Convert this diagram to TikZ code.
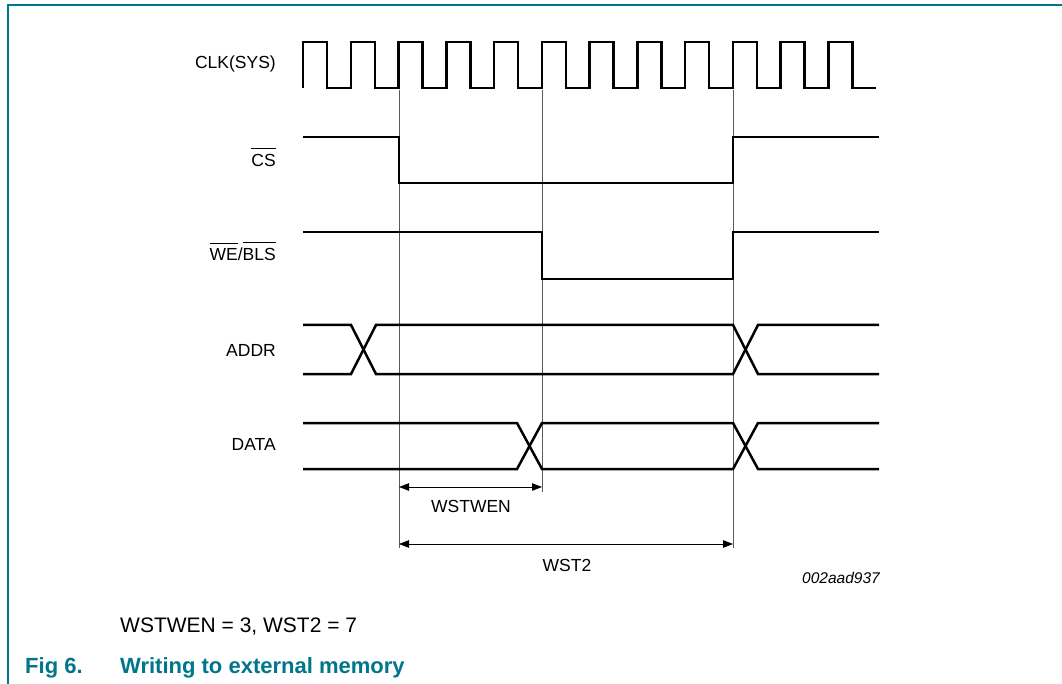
\documentclass[tikz,border=0pt]{standalone}
\usepackage{fontspec}
\setmainfont{Liberation Sans}
\usetikzlibrary{arrows.meta}
\definecolor{nxpteal}{RGB}{0,118,140}
\definecolor{guidegray}{RGB}{90,90,90}
\newcommand\ovl[1]{\leavevmode\vbox{\hrule height 0.9pt\kern 5.5pt\hbox{#1}}}
\begin{document}
\begin{tikzpicture}[x=1pt,y=-1pt,
  sig/.style={line width=2.5pt,line join=miter,black},
  guide/.style={line width=0.9pt,guidegray},
  dim/.style={line width=0.9pt,black,{Triangle[length=10pt,width=7.5pt]}-{Triangle[length=10pt,width=7.5pt]}},
  lbl/.style={font=\fontsize{17.5}{21}\selectfont,inner sep=0pt,anchor=base east},
  dimlbl/.style={font=\fontsize{17.5}{21}\selectfont,inner sep=0pt,anchor=base},
  frame/.style={line width=1.6pt,nxpteal}]
\useasboundingbox[fill=white] (0,0) rectangle (1062,684);
% frame
\coordinate (fbl) at (8,684);
\coordinate (ftl) at (8,5);
\coordinate (ftr) at (1062,5);
\draw[frame] (fbl) -- (ftl) -- (ftr);
% guide lines
\coordinate (g1t) at (399,90);  \coordinate (g1b) at (399,548);
\coordinate (g2t) at (542,90);  \coordinate (g2b) at (542,492);
\coordinate (g3t) at (733,90);  \coordinate (g3b) at (733,548);
\draw[guide] (g1t) -- (g1b);
\draw[guide] (g2t) -- (g2b);
\draw[guide] (g3t) -- (g3b);
% clock
\draw[sig] (303,88) foreach \k in {0,...,11} {-- ++(0,-46) -- ++(24,0) -- ++(0,46) -- ++(23.75,0)};
% CS
\draw[sig] (303,137) -- (399,137) -- (399,183) -- (733,183) -- (733,137) -- (879,137);
% WE/BLS
\draw[sig] (303,232) -- (542,232) -- (542,279) -- (733,279) -- (733,232) -- (879,232);
% ADDR
\draw[sig] (303,325) -- (351,325) -- (376,374) -- (733,374) -- (758,325) -- (879,325);
\draw[sig] (303,374) -- (351,374) -- (376,325) -- (733,325) -- (758,374) -- (879,374);
% DATA
\draw[sig] (303,423) -- (517,423) -- (542,469) -- (733,469) -- (758,423) -- (879,423);
\draw[sig] (303,469) -- (517,469) -- (542,423) -- (733,423) -- (758,469) -- (879,469);
% signal labels
\node[lbl] (lclk) at (276,69) {CLK(SYS)};
\node[lbl] (lcs) at (276,167) {\ovl{CS}};
\node[lbl] (lwe) at (276,261) {\ovl{WE}/\ovl{BLS}};
\node[lbl] (laddr) at (276,356) {ADDR};
\node[lbl] (ldata) at (276,450) {DATA};
% dimension arrows
\coordinate (a1s) at (399,487); \coordinate (a1e) at (542,487);
\coordinate (a2s) at (399,544); \coordinate (a2e) at (733,544);
\draw[dim] (a1s) -- (a1e);
\draw[dim] (a2s) -- (a2e);
\node[dimlbl] (lwstwen) at (471,512) {WSTWEN};
\node[dimlbl] (lwst2) at (567,571) {WST2};
\node[font=\fontsize{15.5}{18}\selectfont\itshape,inner sep=0pt,anchor=base east] (code) at (880,583) {002aad937};
% captions
\node[font=\fontsize{21}{25}\selectfont,inner sep=0pt,anchor=base west] (note) at (120,632) {WSTWEN = 3, WST2 = 7};
\node[font=\fontsize{22}{26}\selectfont\bfseries,text=nxpteal,inner sep=0pt,anchor=base west] (fignum) at (25,673) {Fig 6.};
\node[font=\fontsize{22}{26}\selectfont\bfseries,text=nxpteal,inner sep=0pt,anchor=base west] (figtitle) at (120,673) {Writing to external memory};
\end{tikzpicture}
\end{document}
